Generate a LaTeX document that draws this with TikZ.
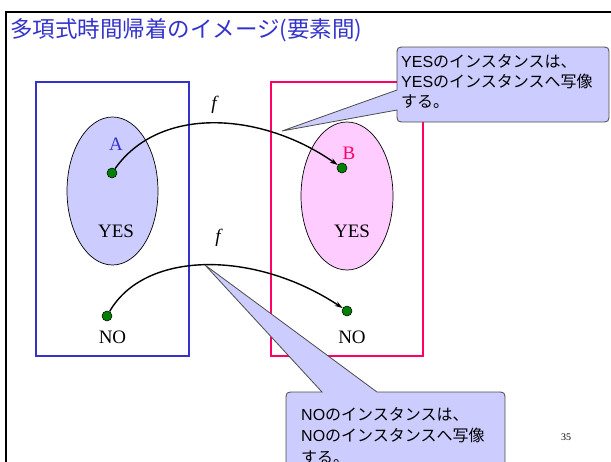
\documentclass[tikz,border=0pt]{standalone}
\usepackage{fontspec}
\setmainfont{Liberation Serif}
\newfontfamily\jpfont{Noto Sans CJK JP}
\newfontfamily\lsans{Liberation Sans}
\newcommand{\lat}[1]{{\lsans #1}}
\usetikzlibrary{arrows.meta}
\definecolor{ttlblue}{HTML}{3333CC}
\definecolor{boxpink}{HTML}{FF0066}
\definecolor{ellblue}{HTML}{CCCCFF}
\definecolor{ellpink}{HTML}{FFCCFF}
\definecolor{dotgreen}{HTML}{008000}
\tikzset{
  setbox/.style={line width=2.5pt},
  setell/.style={draw=black,line width=0.7pt},
  lbl/.style={font=\fontsize{19}{22}\selectfont,inner sep=0pt},
  elem/.style={circle,fill=dotgreen,draw=black,line width=0.5pt,minimum size=10pt,inner sep=0pt},
  maparr/.style={line width=1.4pt,-{Stealth[length=8pt,width=5pt]}},
  callout/.style={fill=ellblue,draw=black!70,line width=0.8pt},
  calltext/.style={font=\jpfont\fontsize{16}{20}\selectfont,align=left,inner sep=0pt,anchor=north west},
}
\begin{document}
\begin{tikzpicture}[x=1pt,y=-1pt]
\useasboundingbox (0,0) rectangle (611,461);
\clip (0,0) rectangle (611,461);
% frame
\draw[line width=2.5pt] (6,480) -- (6,12) -- (620,12);
% title
\node[anchor=west,inner sep=0pt,text=ttlblue,font=\jpfont\fontsize{22.5}{25}\selectfont] (title) at (10,30) {多項式時間帰着のイメージ(要素間)};
% sets
\draw[setbox,draw=ttlblue] (36,82) rectangle (189,356);
\draw[setbox,draw=boxpink] (271,82) rectangle (423,356);
\draw[setell,fill=ellblue] (112.5,191) ellipse [x radius=45.5,y radius=74];
\draw[setell,fill=ellpink] (347,196) ellipse [x radius=46,y radius=74];
% labels
\node[lbl,text=ttlblue] (la) at (116,144) {A};
\node[lbl,text=boxpink] (lb) at (349,153) {B};
\node[lbl] (yes1) at (116,231.5) {YES};
\node[lbl] (yes2) at (352,231) {YES};
\node[lbl] (no1) at (112.5,337) {NO};
\node[lbl] (no2) at (352,337) {NO};
\node[lbl,anchor=base] (f1) at (214,109) {\itshape f};
\node[lbl,anchor=base] (f2) at (218,242) {\itshape f};
% elements
\node[elem] (a) at (112,173) {};
\node[elem] (b) at (342,168) {};
\node[elem] (n1) at (107,316) {};
\node[elem] (n2) at (347,311) {};
% maps
\draw[maparr] (a) .. controls (160,105) and (262,112) .. (b);
\draw[maparr] (n1) .. controls (145,250) and (255,250) .. (n2);
% callout 1
\path[callout] (282,131) -- (397,110) -- (397,113) .. controls (397,122) .. (406,122)
  -- (600,122) .. controls (609,122) .. (609,113) -- (609,56) .. controls (609,47) .. (600,47)
  -- (406,47) .. controls (397,47) .. (397,56) -- (397,90) -- cycle;
\node[calltext] (c1) at (401,54) {\lat{YES}のインスタンスは、\\\lat{YES}のインスタンスへ写像\\する。};
% callout 2
\path[callout] (205,265) -- (377,392) -- (496,392) .. controls (505,392) .. (505,401)
  -- (505,480) -- (286,480) -- (286,401) .. controls (286,392) .. (295,392) -- (322,392) -- cycle;
\node[calltext,font=\jpfont\fontsize{16}{21.5}\selectfont] (c2) at (301,407) {\lat{NO}のインスタンスは、\\\lat{NO}のインスタンスへ写像\\する。};
% page number
\node[font=\fontsize{10}{12}\selectfont,inner sep=0pt] (pg) at (566,437) {35};
\end{tikzpicture}
\end{document}
